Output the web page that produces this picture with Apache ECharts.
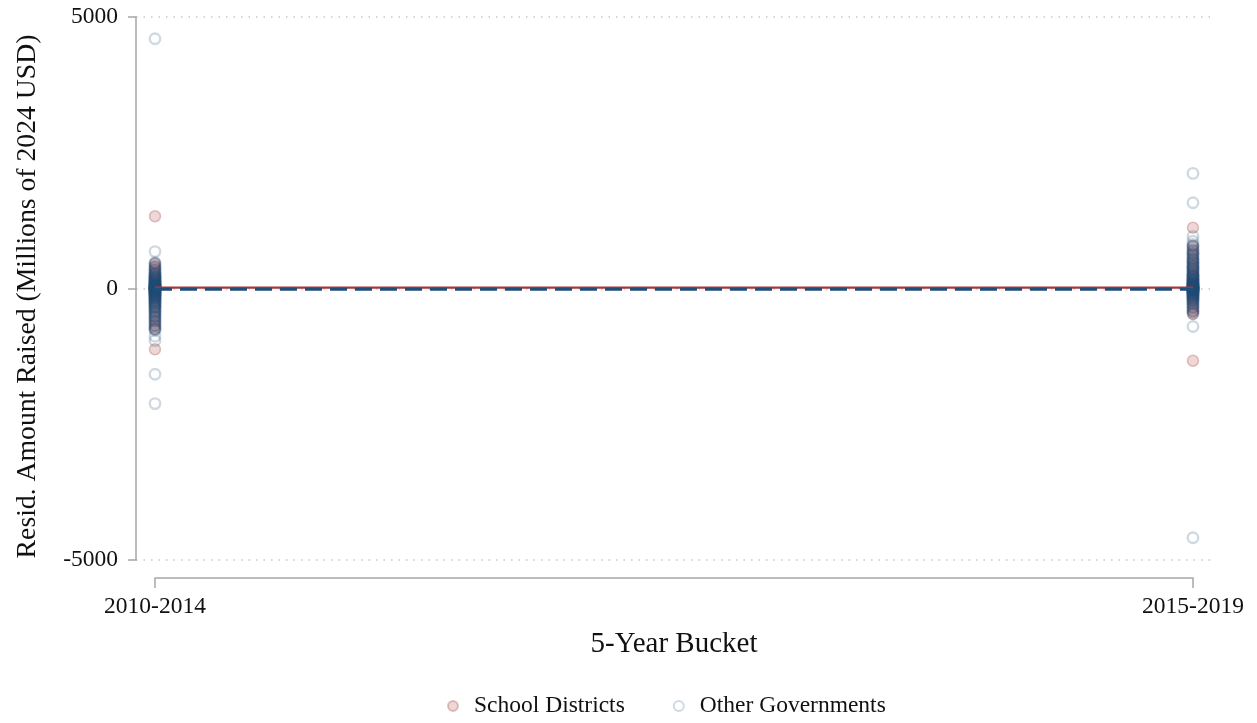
<!DOCTYPE html>
<html>
<head>
<meta charset="utf-8">
<script src="https://cdn.jsdelivr.net/npm/echarts@6/dist/echarts.min.js"></script>
<style>html,body{margin:0;padding:0;background:#fff;}#c{width:1257px;height:723px;}</style>
</head>
<body>
<div id="c"></div>
<script>
// ---- data ----
const categories = ["2010-2014", "2015-2019"];
const yTicks = [-5000, 0, 5000];
const seriesNames = ["School Districts", "Other Governments"];

// Residuals, School Districts, bucket 2010-2014
const schoolResid2010 = [1330, -1120, 460, 400, 340, 290, 240, 200, 160, 125, 95, 70, 48, 30, 15, 4, -6, -18, -33, -50, -72, -98, -130, -170, -220, -280, -350, -430, -520, -600, -680, -750];
// Residuals, School Districts, bucket 2015-2019
const schoolResid2015 = [1120, -1330, 780, 700, 620, 550, 480, 420, 360, 310, 260, 215, 175, 140, 108, 80, 55, 33, 14, -4, -22, -42, -65, -92, -125, -165, -215, -280, -350, -420, -470];
// Residuals, Other Governments, bucket 2010-2014
const otherResid2010 = [4600, 680, -880, -960, -1580, -2120, 480, 420, 390, 350, 310, 280, 250, 230, 210, 190, 175, 160, 148, 135, 122, 110, 98, 87, 76, 66, 57, 49, 41, 34, 27, 21, 15, 10, 6, 2, -3, -8, -13, -19, -25, -32, -39, -47, -55, -64, -73, -83, -94, -106, -118, -131, -145, -160, -176, -193, -211, -230, -252, -275, -300, -328, -358, -390, -425, -462, -500, -540, -585, -630, -680, -730, -770, 12, -22, 44, -61, 91, -115, 140, -170, 205, -240, 270, -320, 60,
  455, 370, 330, 265, 220, 182, 154, 128, 104, 81, 52, 31, 18, 8, 0, -5, -16, -28, -43, -58, -78, -100, -124, -152, -185, -220, -262, -290, -340, -372, -410, -445, -480, -520, -560, -605, -655, -705, -750, -100];
// Residuals, Other Governments, bucket 2015-2019
const otherResid2015 = [2120, 1580, 960, 870, -700, -4590, 810, 760, 700, 640, 590, 540, 490, 450, 410, 370, 335, 300, 270, 240, 215, 190, 168, 148, 130, 113, 97, 83, 70, 58, 47, 37, 28, 20, 13, 7, 1, -5, -11, -18, -26, -35, -45, -56, -68, -82, -97, -114, -133, -155, -180, -208, -240, -275, -315, -360, -410, -460, 25, -40, 90, -120, 160, 230, 390, 520, 650, -200, 5, -15,
  790, 730, 670, 615, 565, 515, 470, 430, 390, 352, 318, 285, 255, 228, 202, 178, 158, 139, 121, 105, 88, 76, 64, 52, 42, 32, 24, 16, 10, 3, -2, -8, -14, -22, -30, -40, -50, -62, -75, -90, -105, -125, -145, -168, -195, -225, -258, -295, -338, -385, -435];
// Fitted lines (start, end) per group
const schoolFit = [15, 15];
const otherFit = [-15, -15];

// ---- build ----
function pts(xIdx, arr) { return arr.map(v => [xIdx, v]); }
const schoolPts = pts(0, schoolResid2010).concat(pts(1, schoolResid2015));
const otherPts = pts(0, otherResid2010).concat(pts(1, otherResid2015));
const fitX = [0, 1];

const font = "Liberation Serif";
const axisGray = "#a6a6a6";
const chart = echarts.init(document.getElementById('c'), null, {renderer: 'canvas'});
chart.setOption({
  animation: false,
  backgroundColor: '#fff',
  textStyle: {fontFamily: font},
  grid: [
    {left: 136, right: 47, top: 17, bottom: 163, containLabel: false},
    {left: 155, right: 64, top: 570, height: 8, containLabel: false}
  ],
  xAxis: [
    {gridIndex: 0, type: 'value', min: -0.0183, max: 1.0164, show: false, splitLine: {show: false}},
    {gridIndex: 1, type: 'value', min: 0, max: 1, interval: 1,
      axisLine: {show: true, onZero: false, lineStyle: {color: axisGray, width: 1.5}},
      axisTick: {show: true, length: 10, lineStyle: {color: axisGray, width: 1.5}},
      axisLabel: {show: true, margin: 17, fontFamily: font, fontSize: 23.5, color: '#111',
        formatter: v => categories[Math.round(v)] || ''},
      splitLine: {show: false},
      name: '5-Year Bucket', nameLocation: 'middle', nameGap: 52,
      nameTextStyle: {fontFamily: font, fontSize: 29, color: '#111'}
    }
  ],
  yAxis: [
    {gridIndex: 0, type: 'value', min: yTicks[0], max: yTicks[2], interval: 5000,
      axisLine: {show: true, onZero: false, lineStyle: {color: axisGray, width: 1.5}},
      axisTick: {show: true, length: 8, lineStyle: {color: axisGray, width: 1.5}},
      axisLabel: {margin: 18, fontFamily: font, fontSize: 23.5, color: '#111', formatter: v => String(v)},
      splitLine: {show: true, lineStyle: {color: '#c8c8c8', type: [1.5, 6], width: 1.5}},
      name: 'Resid. Amount Raised (Millions of 2024 USD)', nameLocation: 'middle', nameGap: 94,
      nameTextStyle: {fontFamily: font, fontSize: 27.7, color: '#111', padding: [0, 16, 0, 0]}
    },
    {gridIndex: 1, type: 'value', show: false, min: 0, max: 1}
  ],
  legend: {
    bottom: 0, left: 442, itemGap: 48, itemWidth: 10, itemHeight: 10,
    textStyle: {fontFamily: font, fontSize: 23.5, color: '#111', padding: [0, 0, 0, 11]},
    data: [
      {name: seriesNames[0], icon: 'circle'},
      {name: seriesNames[1], icon: 'circle'}
    ]
  },
  series: [
    {name: seriesNames[0], type: 'scatter', xAxisIndex: 0, yAxisIndex: 0, symbol: 'circle', symbolSize: 11, z: 2,
      itemStyle: {color: 'rgba(190,90,90,0.3)', borderColor: 'rgba(150,50,50,0.35)', borderWidth: 1.5},
      data: schoolPts},
    {name: seriesNames[1], type: 'scatter', xAxisIndex: 0, yAxisIndex: 0, symbol: 'circle', symbolSize: 10.5, z: 3,
      itemStyle: {color: 'rgba(255,255,255,0)', borderColor: 'rgba(31,78,121,0.27)', borderWidth: 2.4},
      data: otherPts},
    {name: 'schoolFit', type: 'line', xAxisIndex: 0, yAxisIndex: 0, symbol: 'none', z: 4, silent: true,
      lineStyle: {color: '#a83838', width: 2.2},
      data: fitX.map((x, i) => [x, schoolFit[i]])},
    {name: 'otherFit', type: 'line', xAxisIndex: 0, yAxisIndex: 0, symbol: 'none', z: 5, silent: true,
      lineStyle: {color: '#1f4e79', width: 3, type: [17, 8]},
      data: fitX.map((x, i) => [x, otherFit[i]])}
  ]
});
</script>
</body>
</html>
